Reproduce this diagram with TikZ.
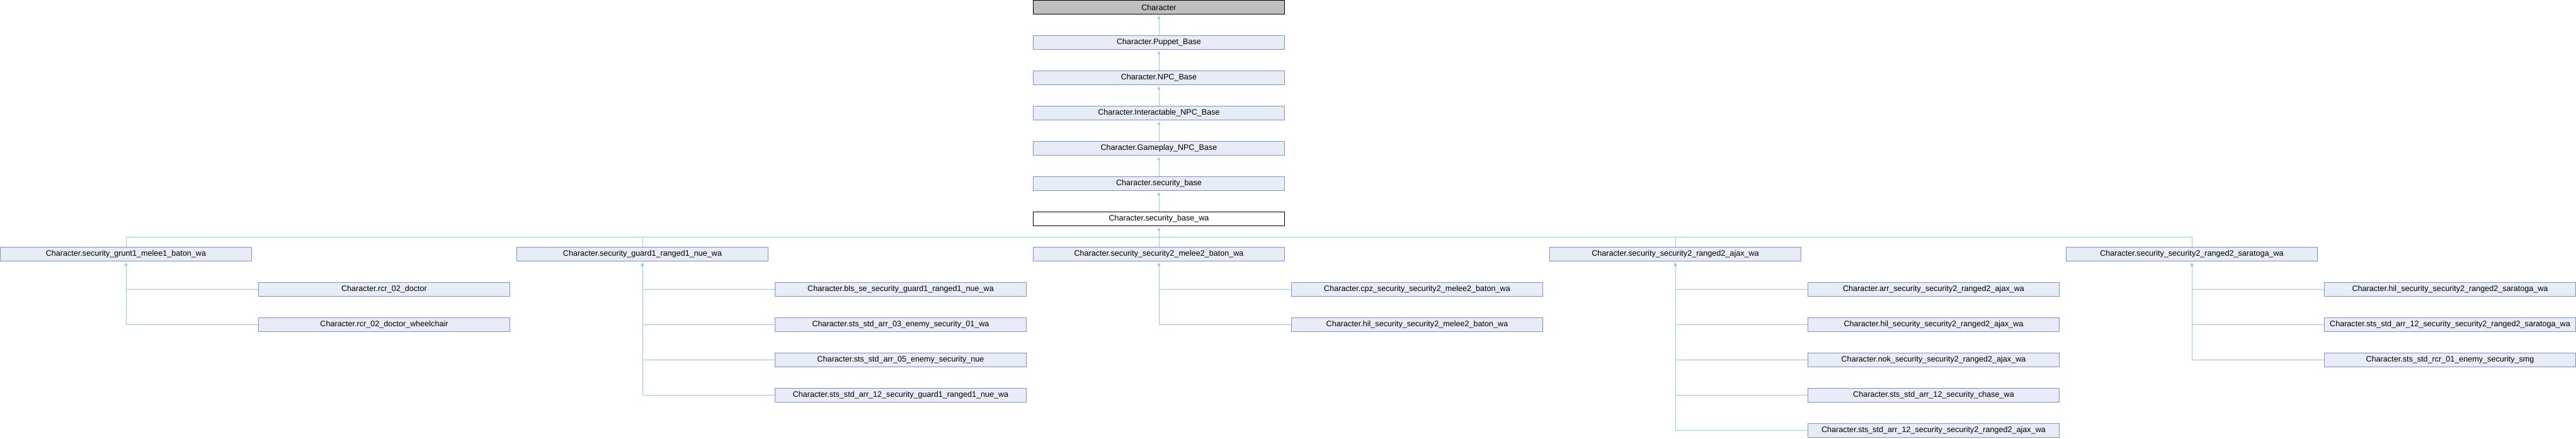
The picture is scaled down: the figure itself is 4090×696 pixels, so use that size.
\documentclass[tikz,border=0pt]{standalone}
\usepackage{fontspec}
\setmainfont{Liberation Sans}
\usetikzlibrary{arrows.meta}
\definecolor{boxfill}{RGB}{232,236,246}
\definecolor{boxline}{RGB}{124,148,200}
\definecolor{linkcol}{RGB}{150,202,234}

\begin{document}
\begin{tikzpicture}[x=1pt,y=-1pt,
  cls/.style={draw=boxline,fill=boxfill,line width=1pt,minimum width=399pt,minimum height=22pt,inner sep=0pt,font=\fontsize{12.6}{14}\selectfont},
  link/.style={draw=linkcol,line width=1pt},
  inh/.style={link,-{Triangle[length=5pt,width=4.5pt]},shorten >=2pt}]
\useasboundingbox (0,0) rectangle (4090,696);
% base chain
\node[cls,draw=black,fill=black!25] (char) at (1840,11.5) {Character};
\node[cls] (puppet) at (1840,67.5) {Character.Puppet\_Base};
\node[cls] (npc) at (1840,123.5) {Character.NPC\_Base};
\node[cls] (inter) at (1840,179.5) {Character.Interactable\_NPC\_Base};
\node[cls] (gameplay) at (1840,235.5) {Character.Gameplay\_NPC\_Base};
\node[cls] (secbase) at (1840,291.5) {Character.security\_base};
\node[cls,draw=black,fill=white] (basewa) at (1840,347.5) {Character.security\_base\_wa};
\draw[inh] (puppet.north) -- (char.south);
\draw[inh] (npc.north) -- (puppet.south);
\draw[inh] (inter.north) -- (npc.south);
\draw[inh] (gameplay.north) -- (inter.south);
\draw[inh] (secbase.north) -- (gameplay.south);
\draw[inh] (basewa.north) -- (secbase.south);

% second level
\node[cls] (grunt) at (200,403.5) {Character.security\_grunt1\_melee1\_baton\_wa};
\node[cls] (guard) at (1020,403.5) {Character.security\_guard1\_ranged1\_nue\_wa};
\node[cls] (melee) at (1840,403.5) {Character.security\_security2\_melee2\_baton\_wa};
\node[cls] (ajax) at (2660,403.5) {Character.security\_security2\_ranged2\_ajax\_wa};
\node[cls] (sara) at (3480,403.5) {Character.security\_security2\_ranged2\_saratoga\_wa};
\coordinate (bus) at (1840,376);
\draw[link] (grunt.north) |- (bus);
\draw[link] (sara.north) |- (bus);
\foreach \g in {guard,melee,ajax}
  \draw[link] (\g.north) -- (\g.north |- bus);
\draw[inh] (bus) -- (basewa.south);

% leaves
\foreach \n/\t [count=\i] in {doctor/rcr\_02\_doctor,wheel/rcr\_02\_doctor\_wheelchair}{
  \node[cls] (\n) at (610,{56*(\i+7)+11.5}) {Character.\t};
  \draw[inh] (\n.west) -| (grunt.south);
}
\foreach \n/\t [count=\i] in {bls/bls\_se\_security\_guard1\_ranged1\_nue\_wa,
    arrthree/sts\_std\_arr\_03\_enemy\_security\_01\_wa,
    arrfive/sts\_std\_arr\_05\_enemy\_security\_nue,
    arrguard/sts\_std\_arr\_12\_security\_guard1\_ranged1\_nue\_wa}{
  \node[cls] (\n) at (1430,{56*(\i+7)+11.5}) {Character.\t};
  \draw[inh] (\n.west) -| (guard.south);
}
\foreach \n/\t [count=\i] in {cpzmelee/cpz\_security\_security2\_melee2\_baton\_wa,
    hilmelee/hil\_security\_security2\_melee2\_baton\_wa}{
  \node[cls] (\n) at (2250,{56*(\i+7)+11.5}) {Character.\t};
  \draw[inh] (\n.west) -| (melee.south);
}
\foreach \n/\t [count=\i] in {arrajax/arr\_security\_security2\_ranged2\_ajax\_wa,
    hilajax/hil\_security\_security2\_ranged2\_ajax\_wa,
    nokajax/nok\_security\_security2\_ranged2\_ajax\_wa,
    chase/sts\_std\_arr\_12\_security\_chase\_wa,
    stsajax/sts\_std\_arr\_12\_security\_security2\_ranged2\_ajax\_wa}{
  \node[cls] (\n) at (3070,{56*(\i+7)+11.5}) {Character.\t};
  \draw[inh] (\n.west) -| (ajax.south);
}
\foreach \n/\t [count=\i] in {hilsara/hil\_security\_security2\_ranged2\_saratoga\_wa,
    stssara/sts\_std\_arr\_12\_security\_security2\_ranged2\_saratoga\_wa,
    smg/sts\_std\_rcr\_01\_enemy\_security\_smg}{
  \node[cls] (\n) at (3890,{56*(\i+7)+11.5}) {Character.\t};
  \draw[inh] (\n.west) -| (sara.south);
}
\end{tikzpicture}
\end{document}
